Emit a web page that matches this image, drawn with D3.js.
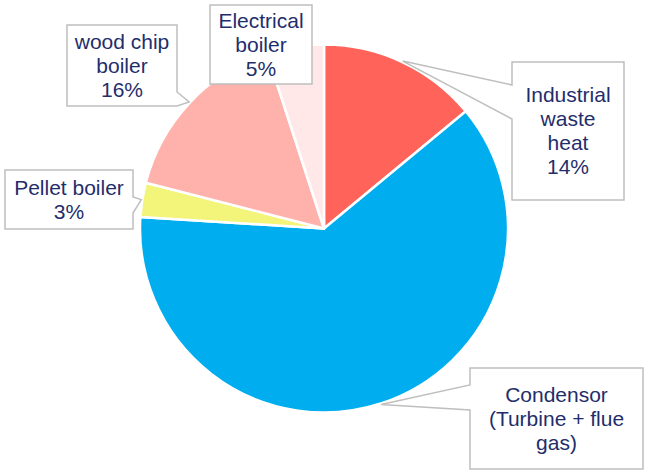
<!DOCTYPE html>
<html>
<head>
<meta charset="utf-8">
<script src="https://cdn.jsdelivr.net/npm/d3@7"></script>
<style>
  html, body { margin: 0; padding: 0; background: #fff; }
  svg { display: block; }
</style>
</head>
<body>
<svg id="chart" width="645" height="472"></svg>
<script>
// Heat supply shares by source (percent), clockwise from 12 o'clock
const categories = [
  "Industrial waste heat",
  "Condensor (Turbine + flue gas)",
  "Pellet boiler",
  "wood chip boiler",
  "Electrical boiler"
];
const values = [14, 62, 3, 16, 5];
const colors = ["#FF6359", "#00AEEF", "#F3F57A", "#FFB1AB", "#FFE8E7"];

// Label text lines per slice; the percentage line is appended where shown
const labelLines = [
  ["Industrial", "waste", "heat"],
  ["Condensor", "(Turbine + flue", "gas)"],
  ["Pellet boiler"],
  ["wood chip", "boiler"],
  ["Electrical", "boiler"]
];
const showPercent = [true, false, true, true, true];

// Callout boxes: [x0, y0, x1, y1], the side the pointer leaves from, and the pointer base span
const boxes = [
  { r: [512, 62, 624, 200], side: "left",  base: [85, 119] },
  { r: [470, 368, 643, 469], side: "left", base: [385, 410] },
  { r: [5, 170, 133, 229], side: "right",  base: [197, 213] },
  { r: [67, 25, 177, 106], side: "right",  base: [92, 106] },
  { r: [210, 5, 312, 84], side: "none",    base: null }
];

const svg = d3.select("#chart");
const cx = 324, cy = 228.5, radius = 184;

const pie = d3.pie().sort(null).value(d => d)(values);
const arc = d3.arc().innerRadius(0).outerRadius(radius);

const g = svg.append("g").attr("transform", `translate(${cx},${cy})`);
g.selectAll("path.slice")
  .data(pie)
  .join("path")
  .attr("class", "slice")
  .attr("d", arc)
  .attr("fill", (d, i) => colors[i])
  .attr("stroke", "#fff")
  .attr("stroke-width", 2.5)
  .attr("stroke-linejoin", "round");

// Pointer tip: on the rim at the middle angle of each slice
function tipPoint(d, rr) {
  const a = (d.startAngle + d.endAngle) / 2;
  return [cx + rr * Math.sin(a), cy - rr * Math.cos(a)];
}

function calloutPath(b, tip) {
  const [x0, y0, x1, y1] = b.r;
  const p = d3.path();
  if (b.side === "left") {
    p.moveTo(x0, y0); p.lineTo(x1, y0); p.lineTo(x1, y1); p.lineTo(x0, y1);
    p.lineTo(x0, b.base[1]); p.lineTo(tip[0], tip[1]); p.lineTo(x0, b.base[0]);
    p.closePath();
  } else if (b.side === "right") {
    p.moveTo(x0, y0); p.lineTo(x1, y0);
    p.lineTo(x1, b.base[0]); p.lineTo(tip[0], tip[1]); p.lineTo(x1, b.base[1]);
    p.lineTo(x1, y1); p.lineTo(x0, y1);
    p.closePath();
  } else {
    p.rect(x0, y0, x1 - x0, y1 - y0);
  }
  return p.toString();
}

const fs = 21, lh = 24;
const labels = svg.append("g");
pie.forEach((d, i) => {
  const b = boxes[i];
  const tip = tipPoint(d, radius + 1);
  labels.append("path")
    .attr("d", calloutPath(b, tip))
    .attr("fill", "#fff")
    .attr("stroke", "#BFBFBF")
    .attr("stroke-width", 1.5)
    .attr("stroke-linejoin", "miter");

  const lines = labelLines[i].slice();
  if (showPercent[i]) lines.push(values[i] + "%");
  const bx = (b.r[0] + b.r[2]) / 2;
  const by = (b.r[1] + b.r[3]) / 2;
  const t = labels.append("text")
    .attr("text-anchor", "middle")
    .attr("font-family", "'Liberation Sans', Arial, sans-serif")
    .attr("font-size", fs)
    .attr("fill", "#1F2E6B");
  lines.forEach((ln, k) => {
    t.append("tspan")
      .attr("x", bx)
      .attr("y", by + (k - (lines.length - 1) / 2) * lh + 0.35 * fs)
      .text(ln);
  });
});
</script>
</body>
</html>
